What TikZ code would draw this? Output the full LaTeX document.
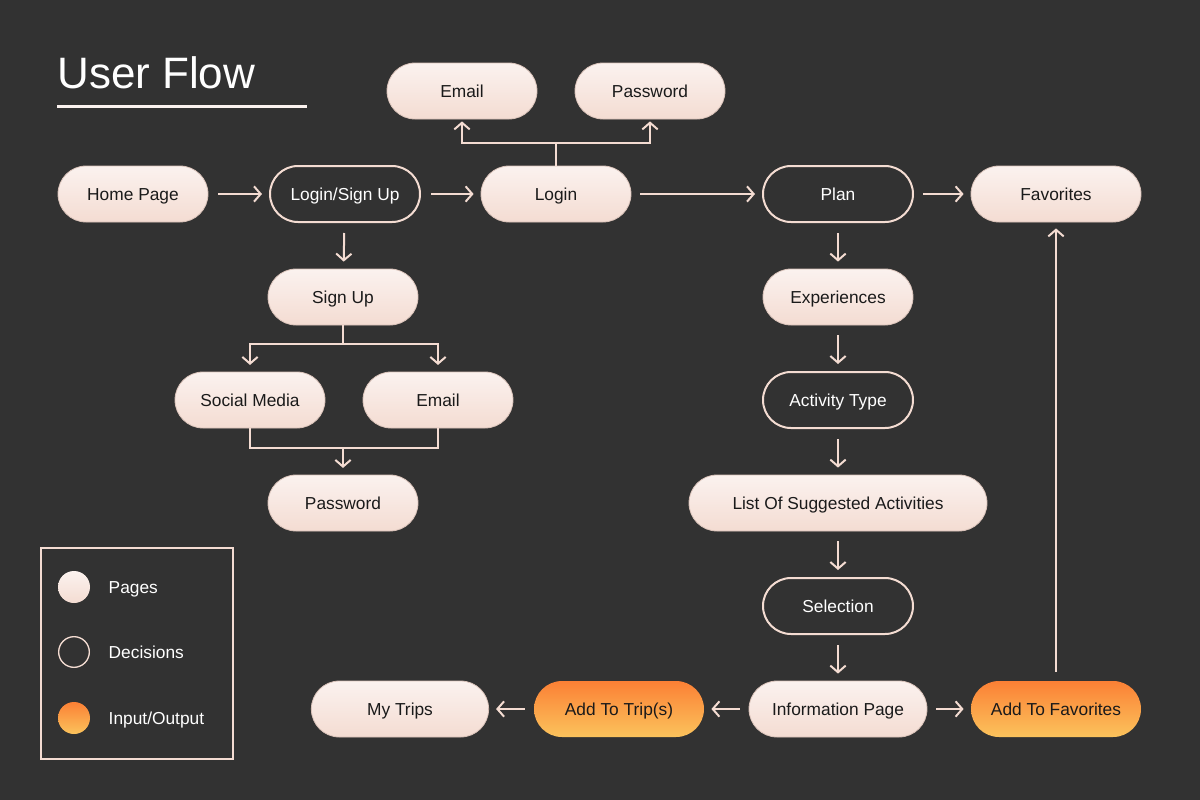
\documentclass[tikz,border=0pt]{standalone}
\usepackage{fontspec}
\setmainfont{Liberation Sans}
\usetikzlibrary{arrows.meta}
\definecolor{bgdark}{HTML}{323232}
\definecolor{pagetop}{HTML}{FBF2EF}
\definecolor{pagebot}{HTML}{F4DCD2}
\definecolor{pageedge}{HTML}{D9C2B9}
\definecolor{iotop}{HTML}{FB8035}
\definecolor{iomid}{HTML}{F99640}
\definecolor{iobot}{HTML}{FBC35C}
\definecolor{inktext}{HTML}{1A1A1A}
\tikzset{
  page/.style = {rectangle, rounded corners = 21pt, minimum height = 42pt,
    minimum width = 112.5pt, top color = pagetop, bottom color = pagebot,
    draw = pageedge, line width = 0.6pt, text = inktext,
    text height = 9.3pt, text depth = 0pt,
    font = \fontsize{13}{15}\selectfont},
  decision/.style = {rectangle, rounded corners = 21pt, minimum height = 42pt,
    minimum width = 112.5pt, draw = pagebot, line width = 1.5pt, text = white,
    text height = 9.3pt, text depth = 0pt,
    font = \fontsize{13}{15}\selectfont},
  inout/.style = {page, top color = iotop, middle color = iomid,
    bottom color = iobot, draw = none},
  flow/.style = {draw = pagebot, line width = 1.5pt,
    -{Straight Barb[length = 5pt, width = 11.5pt]}},
  link/.style = {draw = pagebot, line width = 1.5pt},
  legtext/.style = {anchor = west, text = white, text height = 9.3pt,
    text depth = 0pt, font = \fontsize{13}{15}\selectfont}
}
\begin{document}
\begin{tikzpicture}[x = 0.75pt, y = -0.75pt]
\fill[bgdark] (0,0) rectangle (1200,800);
\useasboundingbox (0,0) rectangle (1200,800);
% title
\node[anchor = base west, inner sep = 0, text = white,
  font = \fontsize{33}{40}\selectfont] (title) at (57,88) {User Flow};
\draw[pagetop, line width = 2.25pt] (57,106) -- (307,106);
% top row
\node[page] (home) at (133,194) {Home Page};
\node[decision] (loginsign) at (345,194) {Login/Sign Up};
\node[page] (login) at (556,194) {Login};
\node[page] (loginmail) at (462,91) {Email};
\node[page] (loginpass) at (650,91) {Password};
\node[decision] (plan) at (838,194) {Plan};
\node[page, minimum width = 127.5pt] (favs) at (1056,194) {Favorites};
% sign up branch
\node[page] (signup) at (343,297) {Sign Up};
\node[page] (social) at (250,400) {Social Media};
\node[page] (signmail) at (438,400) {Email};
\node[page] (signpass) at (343,503) {Password};
% plan branch
\node[page] (exper) at (838,297) {Experiences};
\node[decision] (acttype) at (838,400) {Activity Type};
\node[page, minimum width = 223.5pt] (suggest) at (838,503) {List Of Suggested Activities};
\node[decision] (select) at (838,606) {Selection};
\node[page, minimum width = 133.5pt] (info) at (838,709) {Information Page};
\node[inout, minimum width = 127.5pt] (addtrip) at (619,709) {Add To Trip(s)};
\node[page, minimum width = 133pt] (mytrips) at (400,709) {My Trips};
\node[inout, minimum width = 127.5pt] (addfav) at (1056,709) {Add To Favorites};
% connectors
\coordinate (loginfork) at (556,143);
\coordinate (signfork) at (343,344);
\coordinate (signjoin) at (343,448);
\draw[flow, shorten <= 10pt*0.75, shorten >= 7pt*0.75] (home) -- (loginsign);
\draw[flow, shorten <= 10pt*0.75, shorten >= 7pt*0.75] (loginsign) -- (login);
\draw[flow, shorten <= 9pt*0.75, shorten >= 7pt*0.75] (login) -- (plan);
\draw[flow, shorten <= 9pt*0.75, shorten >= 7pt*0.75] (plan) -- (favs);
\draw[link] (login) -- (loginfork);
\draw[flow, shorten >= 1.5pt] (loginfork) -| (loginmail);
\draw[flow, shorten >= 1.5pt] (loginfork) -| (loginpass);
\draw[flow, shorten <= 10pt*0.75, shorten >= 7pt*0.75] (loginsign) -- (signup);
\draw[link] (signup) -- (signfork);
\draw[flow, shorten >= 5pt] (signfork) -| (social);
\draw[flow, shorten >= 5pt] (signfork) -| (signmail);
\draw[link] (social) |- (signjoin);
\draw[link] (signmail) |- (signjoin);
\draw[flow, shorten >= 5pt] (signjoin) -- (signpass);
\draw[flow, shorten <= 10pt*0.75, shorten >= 7pt*0.75] (plan) -- (exper);
\draw[flow, shorten <= 10pt*0.75, shorten >= 7pt*0.75] (exper) -- (acttype);
\draw[flow, shorten <= 10pt*0.75, shorten >= 7pt*0.75] (acttype) -- (suggest);
\draw[flow, shorten <= 10pt*0.75, shorten >= 7pt*0.75] (suggest) -- (select);
\draw[flow, shorten <= 10pt*0.75, shorten >= 7pt*0.75] (select) -- (info);
\draw[flow, shorten <= 9pt*0.75, shorten >= 7pt*0.75] (info) -- (addtrip);
\draw[flow, shorten <= 9pt*0.75, shorten >= 7pt*0.75] (addtrip) -- (mytrips);
\draw[flow, shorten <= 9pt*0.75, shorten >= 7pt*0.75] (info) -- (addfav);
\draw[flow, shorten <= 9pt*0.75, shorten >= 6pt*0.75] (addfav) -- (favs);
% legend
\draw[pagebot, line width = 1.5pt] (41,548) rectangle (233,759);
\node[circle, minimum size = 24pt, top color = pagetop, bottom color = pagebot,
  inner sep = 0] (legpage) at (74,587) {};
\node[circle, minimum size = 23pt, draw = pagebot, line width = 1pt,
  inner sep = 0] (legdecide) at (74,652) {};
\node[circle, minimum size = 24pt, top color = iotop, middle color = iomid,
  bottom color = iobot, inner sep = 0] (legio) at (74,718) {};
\node[legtext] (legpagetxt) at (104,587) {Pages};
\node[legtext] (legdecidetxt) at (104,652) {Decisions};
\node[legtext] (legiotxt) at (104,718) {Input/Output};
\end{tikzpicture}
\end{document}
